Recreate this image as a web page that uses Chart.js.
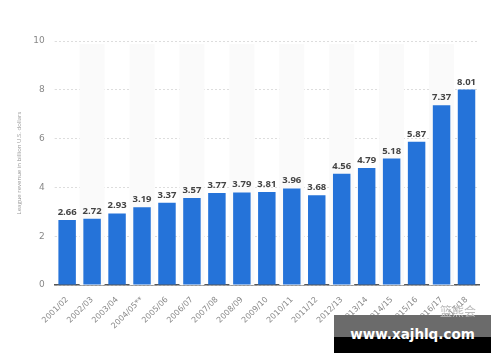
<!DOCTYPE html>
<html>
<head>
<meta charset="utf-8">
<script src="https://cdn.jsdelivr.net/npm/chart.js@4"></script>
<style>
  body { margin: 0; background: #fff; }
  #wrap { position: relative; width: 500px; height: 362px; }
  #mark { position: absolute; left: 334px; top: 315px; width: 157px; height: 38px;
          background: linear-gradient(#6b6b6b 0, #6b6b6b 58%, #000 58%, #000 100%);
          color: #fff; font: bold 13.5px "DejaVu Sans", sans-serif; text-align: center; line-height: 38px; }
  #logo { position: absolute; left: 440px; top: 302px; color: #bbb; font: 12px "Noto Sans CJK SC", sans-serif; }
</style>
</head>
<body>
<div id="wrap">
  <canvas id="revenue-chart" width="500" height="362"></canvas>
  <div id="mark">www.xajhlq.com</div>
  <div id="logo">篮熊会</div>
</div>
<script>
var seasons = ['2001/02', '2002/03', '2003/04', '2004/05**', '2005/06', '2006/07', '2007/08', '2008/09',
  '2009/10', '2010/11', '2011/12', '2012/13', '2013/14', '2014/15', '2015/16', '2016/17', '2017/18'];
var revenue = [2.66, 2.72, 2.93, 3.19, 3.37, 3.57, 3.77, 3.79, 3.81, 3.96, 3.68, 4.56, 4.79, 5.18, 5.87, 7.37, 8.01];
var yTicks = [0, 2, 4, 6, 8, 10];

// light stripes behind every other column
var stripes = {
  id: 'stripes',
  beforeDatasetsDraw: (chart) => {
    var c = chart.ctx, x = chart.scales.x, area = chart.chartArea;
    var w = x.getPixelForValue(1) - x.getPixelForValue(0);
    c.save();
    c.fillStyle = '#fafafa';
    seasons.forEach((s, i) => {
      if (i % 2 == 1) c.fillRect(x.getPixelForValue(i) - w / 2, area.top + 3, w, area.bottom - area.top - 3);
    });
    c.restore();
  }
};

// value labels above bars
var valueLabels = {
  id: 'valueLabels',
  afterDatasetsDraw: (chart) => {
    var c = chart.ctx;
    c.save();
    c.font = 'bold 9.5px "Open Sans"';
    c.fillStyle = '#444';
    c.textAlign = 'center';
    c.textBaseline = 'bottom';
    chart.getDatasetMeta(0).data.forEach((bar, i) => {
      c.fillText(revenue[i].toFixed(2), bar.x, bar.y - 3);
    });
    c.restore();
  }
};

var ctx = document.getElementById('revenue-chart').getContext('2d');
var chart = new Chart(ctx, {
  type: 'bar',
  data: {
    labels: seasons,
    datasets: [{
      data: revenue,
      backgroundColor: '#2573d9',
      barPercentage: 0.7,
      categoryPercentage: 1
    }]
  },
  options: {
    responsive: false,
    animation: false,
    layout: { padding: { top: 41, right: 21, left: 10, bottom: 27 } },
    plugins: { legend: { display: false }, tooltip: { enabled: false } },
    scales: {
      x: {
        grid: { display: false },
        border: { display: true, color: '#555', width: 1.5 },
        ticks: { color: '#888', font: { family: 'DejaVu Sans', size: 8 }, minRotation: 45, maxRotation: 45, padding: 2 },
        afterFit: (axis) => { axis.height = 50; }
      },
      y: {
        min: 0, max: 10,
        afterBuildTicks: (axis) => { axis.ticks = yTicks.map(v => ({ value: v })); },
        grid: { color: '#ddd', tickLength: 0 },
        border: { display: false, dash: [2, 2] },
        ticks: { color: '#888', font: { family: 'DejaVu Sans', size: 9 }, padding: 10 },
        title: { display: true, text: 'League revenue in billion U.S. dollars', color: '#999',
                 font: { family: 'Open Sans', size: 6 }, padding: { top: 6, bottom: 0 } }
      }
    }
  },
  plugins: [stripes, valueLabels]
});
</script>
</body>
</html>
